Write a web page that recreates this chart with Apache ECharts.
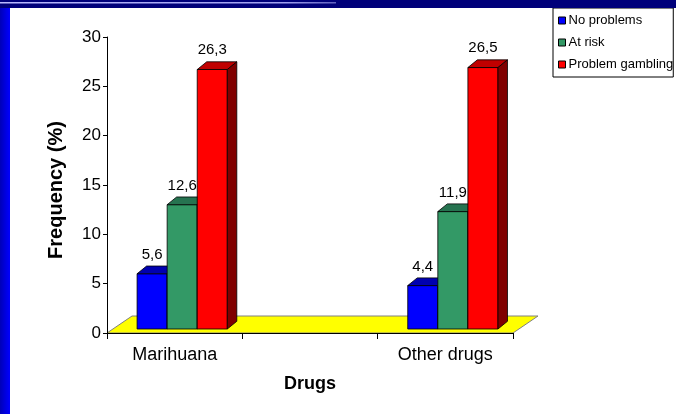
<!DOCTYPE html>
<html><head><meta charset="utf-8">
<script src="https://cdn.jsdelivr.net/npm/echarts@6/dist/echarts.min.js"></script>
<style>html,body{margin:0;padding:0;background:#fff}#c{width:676px;height:414px}</style>
</head><body><div id="c"></div>
<script>
const categories = ['Marihuana', '', 'Other drugs'];
const seriesNames = ['No problems', 'At risk', 'Problem gambling'];
const noProblems = [5.6, null, 4.4];
const atRisk = [12.6, null, 11.9];
const problemGambling = [26.3, null, 26.5];
const yMin = 0, yMax = 30, yStep = 5;
const frontColors = ['#0000FF', '#339966', '#FF0000'];
const topColors = ['#0000B0', '#267350', '#C00000'];
const sideColors = ['#000080', '#1A4D33', '#800000'];

const FONT = '"Liberation Sans", Arial, sans-serif';
const FLOOR_DEPTH = [25, -17];
const BAR_DEPTH = [9.5, -7.7];
const BAR_LIFT = -4;
const BAR_W_RATIO = 30 / 135;
const fmt = v => String(v).replace('.', ',');

function barRender(k) {
  return function (params, api) {
    const i = api.value(0), v = api.value(1);
    const base = api.coord([i, 0]);
    const topP = api.coord([i, v]);
    const band = api.size([1, 0])[0];
    const w = band * BAR_W_RATIO;
    const x0 = base[0] - 1.5 * w + band * 0.0556 + k * w;
    const y0 = base[1] + BAR_LIFT;
    const y1 = topP[1] + BAR_LIFT;
    const dx = BAR_DEPTH[0], dy = BAR_DEPTH[1];
    const st = { stroke: '#000', lineWidth: 0.8 };
    return {
      type: 'group',
      children: [
        { type: 'rect', shape: { x: x0, y: y1, width: w, height: y0 - y1 }, style: Object.assign({ fill: frontColors[k] }, st) },
        { type: 'polygon', shape: { points: [[x0, y1], [x0 + w, y1], [x0 + w + dx, y1 + dy], [x0 + dx, y1 + dy]] }, style: Object.assign({ fill: topColors[k] }, st) },
        { type: 'polygon', shape: { points: [[x0 + w, y1], [x0 + w + dx, y1 + dy], [x0 + w + dx, y0 + dy], [x0 + w, y0]] }, style: Object.assign({ fill: sideColors[k] }, st) },
        { type: 'text', style: { text: fmt(v), x: x0 + w / 2, y: y1 + dy - 4, align: 'center', verticalAlign: 'bottom', fill: '#000', font: '15px ' + FONT } }
      ]
    };
  };
}

function floorRender(params, api) {
  const band = api.size([1, 0])[0];
  const a = api.coord([0, 0]);
  const b = api.coord([categories.length - 1, 0]);
  const left = a[0] - band / 2, right = b[0] + band / 2, y = a[1];
  const dx = FLOOR_DEPTH[0], dy = FLOOR_DEPTH[1];
  return {
    type: 'polygon',
    shape: { points: [[left, y], [right, y], [right + dx, y + dy], [left + dx, y + dy]] },
    style: { fill: '#FFFF00', stroke: '#808080', lineWidth: 1 }
  };
}

const groups = [noProblems, atRisk, problemGambling];
const toData = arr => arr.map((v, i) => [i, v]).filter(d => d[1] !== null);

const chart = echarts.init(document.getElementById('c'), null, { renderer: 'canvas' });
chart.setOption({
  animation: false,
  backgroundColor: '#fff',
  textStyle: { fontFamily: FONT },
  grid: { left: 107, right: 163, top: 37, bottom: 81 },
  legend: {
    data: seriesNames,
    orient: 'vertical',
    left: 553, top: 8,
    padding: [6, 0, 6, 5],
    itemGap: 9,
    itemWidth: 7, itemHeight: 7,
    icon: 'rect',
    borderColor: '#000', borderWidth: 1,
    backgroundColor: '#fff',
    textStyle: { fontSize: 13, color: '#000', fontFamily: FONT, padding: [0, 0, 0, -2] },
    itemStyle: { borderColor: '#000', borderWidth: 1 }
  },
  xAxis: {
    type: 'category',
    data: categories,
    z: 10,
    name: 'Drugs', nameLocation: 'middle', nameGap: 42,
    nameTextStyle: { fontSize: 18, fontWeight: 'bold', color: '#000' },
    axisLine: { lineStyle: { color: '#000', width: 1 } },
    axisTick: { show: true, interval: 0, length: 6, lineStyle: { color: '#000' } },
    axisLabel: { interval: 0, fontSize: 18, color: '#000', margin: 13 },
    splitLine: { show: false }
  },
  yAxis: {
    type: 'value',
    min: yMin, max: yMax, interval: yStep,
    z: 10,
    name: 'Frequency (%)', nameLocation: 'middle', nameGap: 41, nameRotate: 90,
    nameTextStyle: { fontSize: 20, fontWeight: 'bold', color: '#000', padding: [0, 10, 0, 0] },
    axisLine: { show: true, lineStyle: { color: '#000', width: 1 } },
    axisTick: { show: true, length: 4, lineStyle: { color: '#000' } },
    axisLabel: { fontSize: 17, color: '#000', margin: 6 },
    splitLine: { show: false }
  },
  graphic: [
    { type: 'rect', z: 100, shape: { x: 0, y: 0, width: 676, height: 8 }, style: { fill: '#00007A' } },
    { type: 'rect', z: 101, shape: { x: 0, y: 2, width: 336, height: 1.5 }, style: { fill: new echarts.graphic.LinearGradient(0, 0, 1, 0, [{ offset: 0, color: '#B8B8FF' }, { offset: 0.85, color: '#A0A0F0' }, { offset: 1, color: '#6060C0' }]) } },
    { type: 'rect', z: 100, shape: { x: 0, y: 8, width: 10, height: 406 }, style: { fill: new echarts.graphic.LinearGradient(0, 0, 1, 0, [{ offset: 0, color: '#0000B8' }, { offset: 1, color: '#0000FF' }]) } }
  ],
  series: [
    { type: 'custom', name: 'floor', renderItem: floorRender, data: [[0, 0]], z: 1, silent: true }
  ].concat(groups.map((arr, k) => ({
    type: 'custom', name: seriesNames[k], renderItem: barRender(k), data: toData(arr), z: 2,
    itemStyle: { color: frontColors[k], borderColor: '#000', borderWidth: 1 },
    encode: { x: 0, y: 1 }
  })))
});
</script></body></html>
